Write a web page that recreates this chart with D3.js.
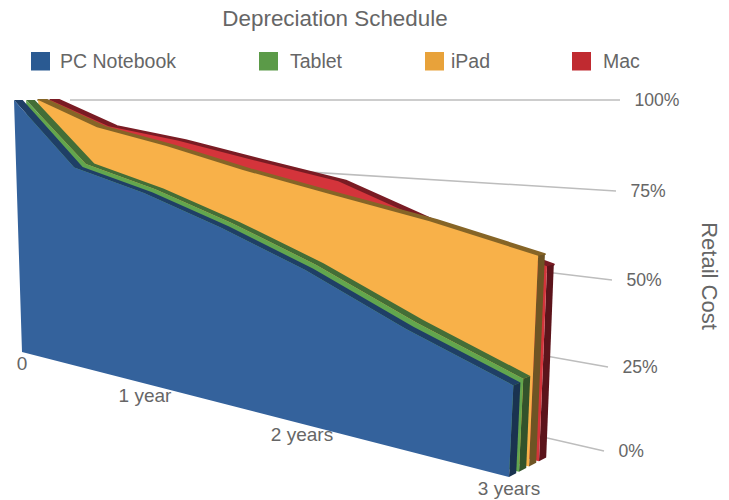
<!DOCTYPE html>
<html><head><meta charset="utf-8">
<script src="https://cdn.jsdelivr.net/npm/d3@7"></script>
<style>html,body{margin:0;background:#fff}svg{display:block}text{font-family:"Liberation Sans",Arial,sans-serif;fill:#666}</style>
</head><body><svg id="c" width="729" height="500"></svg>
<script>
const title = "Depreciation Schedule";
const yAxisTitle = "Retail Cost";
const years = [0, 0.5, 1, 1.5, 2, 2.5, 3];
const seriesNames = ["PC Notebook", "Tablet", "iPad", "Mac"];
const pcNotebook = [100, 74.7, 67.2, 57.9, 47.5, 34.5, 24.3];
const tablet = [100, 75.7, 68.2, 58.9, 48.5, 35.5, 25];
const iPad = [100, 89.6, 83.4, 76.3, 70.4, 64.4, 57.5];
const mac = [100, 89.8, 85.2, 79.4, 73.9, 62.2, 54];
const valueTicks = [0, 25, 50, 75, 100];
const xTickValues = [0, 1, 2, 3];
const xTickLabels = ["0", "1 year", "2 years", "3 years"];
const allSeries = [pcNotebook, tablet, iPad, mac];

// colours: face, top band, right side
const faceColors = ["#34629c", "#62a64e", "#f8b149", "#d4343b"];
const topColors = ["#1f3f66", "#436e37", "#866527", "#7a1c24"];
const sideColors = ["#1a3350", "#33532b", "#6e5424", "#5c141b"];
const legendColors = ["#2a5a92", "#5b9a48", "#e8a23a", "#c02a30"];
const topStroke = [0, 0, 2, 2];

// projection of the chart's 3D box on the page
const projCorners = { // [x fraction][value fraction][depth fraction]
  "000":[22,352], "010":[14,100], "100":[509,477], "110":[527,100],
  "001":[66,343], "011":[60,100], "101":[547,457], "111":[561,100]
};
const fScale = d3.scaleLinear().domain(years).range([0,.115,.2525,.405,.575,.78,1]);
const vScale = d3.scaleLinear().domain([0,100]).range([0,1]);
const dScale = d3.scaleLinear().domain([0,3.8]).range([0,1]);
const slabDepth = 0.72;
function project(year, value, depth){
  const f = fScale(year), v = vScale(value), d = dScale(depth);
  const out=[0,0];
  for(const k in projCorners){
    const w=(k[0]==="1"?f:1-f)*(k[1]==="1"?v:1-v)*(k[2]==="1"?d:1-d);
    out[0]+=w*projCorners[k][0]; out[1]+=w*projCorners[k][1];
  }
  return out;
}
const line = d3.line();
const svg = d3.select("#c");

// title + legend
svg.append("text").attr("x",335).attr("y",26).attr("text-anchor","middle").attr("font-size",22.4).text(title);
const legendX = d3.scaleOrdinal().domain(seriesNames).range([31,259,425,572]);
const legendTextX = d3.scaleOrdinal().domain(seriesNames).range([60,290,451,603]);
seriesNames.forEach((n,i)=>{
  svg.append("rect").attr("x",legendX(n)).attr("y",52).attr("width",19).attr("height",18.5).attr("fill",legendColors[i]);
  svg.append("text").attr("x",legendTextX(n)).attr("y",68).attr("font-size",19.5).text(n);
});

// gridlines on the back wall
const wallStartX = 70;
const wallStartY = d3.scaleLinear().domain([0,100]).range([329,100]);
const wallEndX = d3.scaleLinear().domain([0,100]).range([604,620]);
const wallEndY = d3.scaleLinear().domain(valueTicks).range([451,367,280,191,100]);
valueTicks.forEach(t=>{
  svg.append("path").attr("d",line([[wallStartX,wallStartY(t)],[wallEndX(t),wallEndY(t)]]))
    .attr("stroke","#bdbdbd").attr("stroke-width",1.5).attr("fill","none");
  svg.append("text").attr("x",wallEndX(t)+14.5).attr("y",wallEndY(t)+6).attr("font-size",17.6).text(t+"%");
});
svg.append("text").attr("transform","translate(702,276) rotate(90)").attr("text-anchor","middle").attr("font-size",22).text(yAxisTitle);

// slabs back to front
for(let i=3;i>=0;i--){
  const vals=allSeries[i], g=svg.append("g");
  const front=years.map((y,j)=>project(y,vals[j],i));
  const back=years.map((y,j)=>project(y,vals[j],i+slabDepth));
  const n=years.length-1;
  g.append("path").attr("d",line(front.concat(back.slice().reverse()))+"Z").attr("fill",topColors[i])
    .attr("stroke",topColors[i]).attr("stroke-width",topStroke[i]).attr("stroke-linejoin","round");
  g.append("path").attr("d",line([front[n],back[n],project(3,0,i+slabDepth),project(3,0,i)])+"Z").attr("fill",sideColors[i]);
  g.append("path").attr("d",line(front.concat([project(3,0,i),project(0,0,i)]))+"Z").attr("fill",faceColors[i]);
}
// x labels
const xLabelPos = d3.scaleOrdinal().domain(xTickValues).range([[22,370],[145,402],[302,441],[509,495]]);
xTickValues.forEach((t,i)=>{
  const p=xLabelPos(t);
  svg.append("text").attr("x",p[0]).attr("y",p[1]).attr("text-anchor","middle").attr("font-size",19).text(xTickLabels[i]);
});
</script></body></html>
